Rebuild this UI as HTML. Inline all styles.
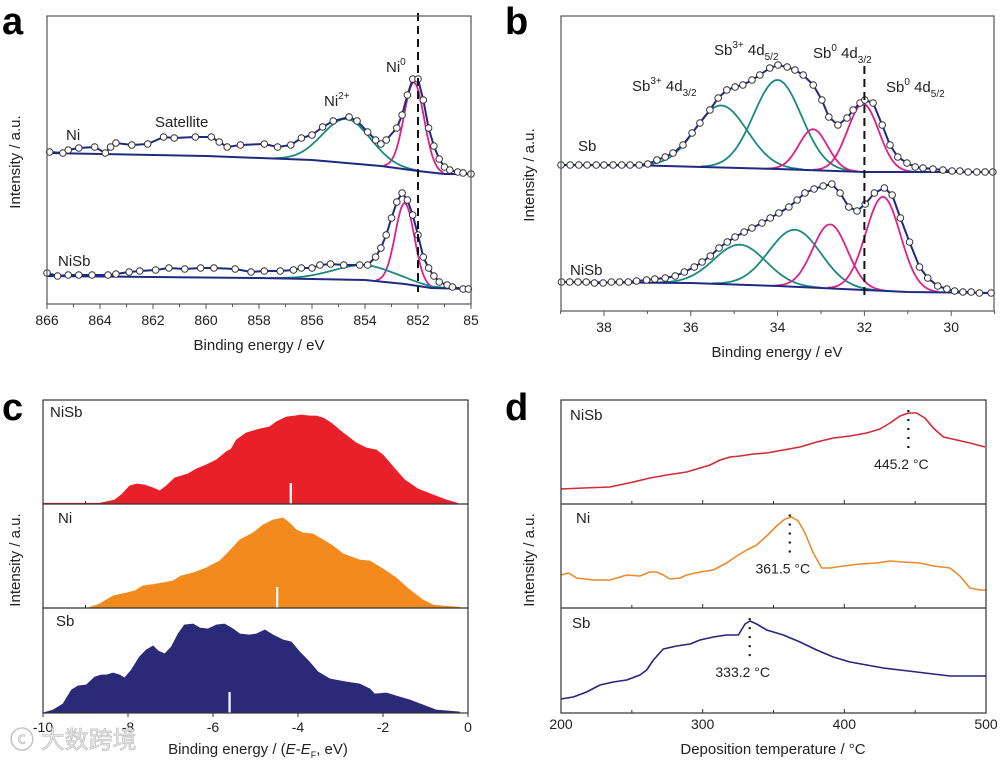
<!DOCTYPE html>
<html><head><meta charset="utf-8">
<style>
html,body{margin:0;padding:0;background:#fff;}
svg{display:block;font-family:"Liberation Sans","Noto Sans CJK SC",sans-serif;}
</style></head>
<body>
<svg id="fig" width="1000" height="762" viewBox="0 0 1000 762" xmlns="http://www.w3.org/2000/svg">
<rect width="1000" height="762" fill="#fff"/>
<g id="pa"></g>
<g id="pb"></g>
<g id="pc"></g>
<g id="pd"></g>
<text x="10" y="748" font-size="24" fill="#e6e6e6" stroke="#bbb" stroke-width="0.6">ⓒ 大数跨境</text>
</svg>
<script>
// ---------- Panel a data (binding energy eV, intensity a.u.) ----------
const aNiE=[865.9,865.4,865.2,864.8,864.2,863.8,863.6,863.4,862.8,862.2,861.6,861.2,860.4,859.8,859.5,859.2,858.7,857.8,857.3,856.8,856.4,856.0,855.6,855.2,854.6,854.3,853.9,853.6,853.4,853.2,852.8,852.6,852.4,852.2,852.0,851.8,851.6,851.4,851.2,851.0,850.8,850.5,850.3,850.0];
const aNiI=[152,151,154,156,157,151,157,161,159,160,167,166,167,167,162,157,159,160,157,159,166,169,177,183,187,183,172,164,160,164,176,189,209,225,225,204,176,158,145,137,134,132,131,130];
const aNiBaseE=[866,860,856,853.4,852,851,850];
const aNiBaseI=[151,148,144,138,133,130,130];
const aNiPeaks=[[852.15,88,0.38,'#e0208a'],[854.7,44,0.9,'#1a8a80']];
const aNiSbE=[866,865.6,865.2,864.8,864.3,863.7,863.4,862.9,862.5,861.9,861.4,860.8,860.2,859.7,858.9,858.3,857.8,857.2,856.7,856.4,856,855.7,855.3,854.8,854.2,853.9,853.6,853.4,853.2,853,852.8,852.6,852.4,852.2,852,851.8,851.6,851.4,851.2,850.9,850.7,850.3,850.1];
const aNiSbI=[31,28,29,29,29,29,30,32,33,34,36,35,36,36,35,32,33,33,34,36,36,39,40,39,39,39,47,56,69,86,102,111,104,89,69,47,36,28,22,19,17,15,15];
const aNiSbBaseE=[866,858,854,852.5,851.5,850];
const aNiSbBaseI=[28,26,24,20,16,15];
const aNiSbPeaks=[[852.5,81,0.36,'#e0208a'],[854.0,15,1.2,'#1a8a80']];
const aTicks=[866,864,862,860,858,856,854,852,850];

// ---------- Panel b data ----------
const bSbE=[38.99,38.78,38.58,38.39,38.18,38.0,37.79,37.59,37.4,37.19,36.99,36.78,36.59,36.41,36.18,35.97,35.79,35.56,35.37,35.17,34.98,34.8,34.59,34.41,34.18,33.99,33.78,33.6,33.41,33.18,32.98,32.82,32.61,32.4,32.26,32.1,31.99,31.8,31.59,31.41,31.23,31.02,30.83,30.65,30.42,30.19,29.98,29.8,29.61,29.41,29.22,29.04];
const bSbI=[146,146,146,146,146,146,146,146,146,146,147,151,154,158,166,178,188,201,213,221,224,226,231,236,243,246,244,241,236,226,211,194,186,193,201,208,211,208,186,166,154,148,144,143,142,141,140,140,139,139,139,139];
const bSbBaseE=[39,37,34,32,29];
const bSbBaseI=[146,145.5,142,139,139];
const bSbPeaks=[[35.3,62,0.6,'#1a8a80'],[34.0,89,0.55,'#1a8a80'],[33.18,41,0.33,'#e0208a'],[32.03,68,0.36,'#e0208a']];
const bNiSbE=[38.98,38.79,38.6,38.41,38.22,38.02,37.83,37.64,37.44,37.25,37.02,36.83,36.59,36.36,36.15,35.92,35.74,35.55,35.35,35.16,34.98,34.77,34.59,34.36,34.17,33.97,33.74,33.55,33.37,33.16,32.95,32.75,32.56,32.36,32.17,31.98,31.77,31.54,31.36,31.17,30.96,30.73,30.54,30.31,30.1,29.92,29.73,29.54,29.35,29.08];
const bNiSbI=[29,29,29,29,28,28,29,29,29,30,31,32,33,35,39,44,49,55,63,69,74,79,83,88,93,98,104,111,118,122,125,127,118,104,100,107,118,123,116,93,69,44,33,25,22,20,19,19,18,18];
const bNiSbBaseE=[39,36,34,32,31,29];
const bNiSbBaseI=[29,28,25,21,19,18];
const bNiSbPeaks=[[34.87,40,0.6,'#1a8a80'],[33.6,57,0.6,'#1a8a80'],[32.79,64,0.4,'#e0208a'],[31.57,94,0.4,'#e0208a']];
const bTicks=[38,36,34,32,30];

// ---------- Panel c data (E-EF eV, DOS a.u.) ----------
const cNiSbE=[-10,-8.67,-8.31,-8.16,-7.96,-7.8,-7.61,-7.41,-7.25,-7.1,-6.9,-6.75,-6.59,-6.39,-6.16,-5.92,-5.69,-5.57,-5.45,-5.22,-4.9,-4.67,-4.51,-4.27,-4.08,-3.92,-3.73,-3.57,-3.41,-3.22,-2.94,-2.63,-2.39,-2.16,-2.0,-1.76,-1.49,-1.18,-0.82,-0.51,-0.24];
const cNiSbD=[0.7,0.7,4,9,18,20,19,16,13,18,26,28,30,35,39,44,52,55,64,71,75,77,82,87,88,89,88,88,86,81,71,61,56,54,49,37,24,15,9,4,0.7];
const cNiE=[-8.94,-8.67,-8.35,-8.04,-7.84,-7.65,-7.33,-6.94,-6.75,-6.47,-6.16,-5.84,-5.61,-5.37,-5.06,-4.82,-4.59,-4.35,-4.2,-4.04,-3.88,-3.65,-3.41,-3.18,-2.94,-2.55,-2.31,-2.0,-1.69,-1.37,-1.06,-0.82,-0.59,-0.2];
const cNiD=[0,4,12,15,17,22,24,27,32,35,40,47,57,68,75,83,88,90,85,78,75,74,68,62,54,48,47,39,30,18,8,3,2,0.7];
const cSbE=[-10,-9.76,-9.53,-9.33,-9.18,-8.98,-8.78,-8.63,-8.51,-8.35,-8.2,-8.08,-7.92,-7.73,-7.57,-7.41,-7.29,-7.14,-6.98,-6.82,-6.67,-6.47,-6.31,-6.12,-5.92,-5.73,-5.53,-5.37,-5.14,-4.98,-4.78,-4.59,-4.35,-4.16,-3.96,-3.73,-3.53,-3.25,-2.86,-2.55,-2.31,-2.2,-1.92,-1.69,-1.37,-1.06,-0.75,-0.2];
const cSbD=[0,3,9,23,27,28,36,38,38,40,38,35,43,56,63,67,62,59,66,79,88,89,85,84,88,89,84,79,78,79,83,78,73,71,61,51,41,34,31,29,24,19,20,17,13,8,3,1];
const cCenters=[-4.17,-4.49,-5.61];
const cTicks=[-10,-8,-6,-4,-2,0];

// ---------- Panel d data (temperature °C, intensity a.u.) ----------
const dNiSbT=[200,215.8,234.6,251.1,262.8,274.6,288.7,298.1,305.2,312.2,319.3,326.4,335.8,345.2,356.9,368.7,380.5,392.2,404,415.8,425.2,432.2,439.3,445.2,451.1,456.9,462.8,469.9,479.3,488.7,499.3];
const dNiSbI=[15,16,17,22,26,29,32,36,39,44,47,48,50,51,54,57,62,66,68,71,75,81,88,91,91,86,76,67,64,61,57];
const dNiT=[200,205.2,211.1,222.8,234.6,246.4,255.8,262.8,267.5,272.2,276.9,284,288.7,298.1,307.5,316.9,324,331.1,338.1,345.2,352.2,358.1,362.8,367.5,372.2,378.1,384,389.9,399.3,411.1,422.8,432.2,441.6,453.4,462.8,474.6,481.6,488.7,495.8,500];
const dNiI=[33,35,30,28,28,33,32,36,36,33,29,30,33,36,38,45,52,58,63,72,82,89,91,87,75,55,40,40,42,44,45,47,46,45,42,40,32,20,18,18];
const dSbT=[200,208.7,218.1,227.5,236.9,246.4,255.8,260.5,265.2,272.2,281.6,291.1,298.1,307.5,316.9,325.2,329.9,333.4,338.1,345.2,356.9,368.7,380.5,392.2,404,415.8,427.5,439.3,451.1,462.8,474.6,486.4,500];
const dSbI=[14,16,21,28,31,33,38,43,53,64,67,69,73,76,78,78,89,92,89,83,78,71,63,56,51,48,45,43,41,39,37,37,37];
const dPeaks=[445.2,361.5,333.2];
const dPeakLabels=['445.2 °C','361.5 °C','333.2 °C'];
const dTicks=[200,300,400,500];

const NS='http://www.w3.org/2000/svg';
function mk(parent,tag,attrs,text){const e=document.createElementNS(NS,tag);for(const k in attrs)e.setAttribute(k,attrs[k]);if(text!==undefined)e.textContent=text;parent.appendChild(e);return e;}
function pathOf(xs,ys,fx,fy){return xs.map((v,i)=>(i?'L':'M')+fx(v).toFixed(1)+' '+fy(ys[i]).toFixed(1)).join(' ');}
function interp(xs,ys,x){ // xs may be descending or ascending
  for(let i=0;i<xs.length-1;i++){const a=xs[i],b=xs[i+1];if((x-a)*(x-b)<=0){const t=(x-a)/(b-a);return ys[i]+t*(ys[i+1]-ys[i]);}}
  return Math.abs(x-xs[0])<Math.abs(x-xs[xs.length-1])?ys[0]:ys[ys.length-1];
}

// ---------- Panel a ----------
(function(){
const g=document.getElementById('pa');
const L=47,R=471,T=16,B=304;
const fx=e=>L+(866-e)*26.5, fy=i=>B-i;
let t;
t=mk(g,'text',{x:2,y:34,'font-size':38,'font-weight':'bold'},'a');

function spectrum(E,I,bE,bI,peaks,name){
  // components
  peaks.forEach((p,k)=>{const xs=[],ys=[];for(let e=p[0]+3*p[2];e>=p[0]-3*p[2];e-=0.05){xs.push(e);ys.push(interp(bE,bI,e)+p[1]*Math.exp(-((e-p[0])**2)/(2*p[2]*p[2])));}
    const c=mk(g,'path',{d:pathOf(xs,ys,fx,fy),fill:'none',stroke:p[3],'stroke-width':1.8});
    });
  const b=mk(g,'path',{d:pathOf(bE,bI,fx,fy),fill:'none',stroke:'#1f2a80','stroke-width':2});
  
  const f=mk(g,'path',{d:pathOf(E,I,fx,fy),fill:'none',stroke:'#1f2a80','stroke-width':2});
  
  E.forEach((e,i)=>{const c=mk(g,'circle',{cx:fx(e),cy:fy(I[i]),r:3.3,fill:'#fff',stroke:'#333','stroke-width':1});
    });
}
spectrum(aNiE,aNiI,aNiBaseE,aNiBaseI,aNiPeaks,'ni');
spectrum(aNiSbE,aNiSbI,aNiSbBaseE,aNiSbBaseI,aNiSbPeaks,'nisb');
const d=mk(g,'line',{x1:fx(852),x2:fx(852),y1:13,y2:292,stroke:'#111','stroke-width':2,'stroke-dasharray':'8,5'});

const box=mk(g,'rect',{x:L,y:T,width:R-L,height:B-T,fill:'none',stroke:'#555','stroke-width':1.2});

for(let v=866;v>=850;v--){const x=fx(v);if(x>R+0.5)continue;const big=v%2===0;
  const tk=mk(g,'line',{x1:x,x2:x,y1:B,y2:B+(big?5:3),stroke:'#555','stroke-width':1});
  }
aTicks.forEach(v=>{const lb=mk(g,'text',{x:fx(v),y:325,'font-size':14,'text-anchor':'middle',fill:'#222'},v===850?'85':String(v));
  });
t=mk(g,'text',{x:259,y:350,'font-size':15,'text-anchor':'middle',fill:'#222'},'Binding energy / eV');

t=mk(g,'text',{x:0,y:0,'font-size':15,'text-anchor':'middle',fill:'#222',transform:'translate(20,162) rotate(-90)'},'Intensity / a.u.');

const labs=[['Ni',66,140],['Satellite',155,127],['NiSb',58,266]];
labs.forEach(l=>{const e=mk(g,'text',{x:l[1],y:l[2],'font-size':15,fill:'#222'},l[0]);});
t=mk(g,'text',{x:324,y:106,'font-size':15,fill:'#222'});t.innerHTML='Ni<tspan dy="-7" font-size="10">2+</tspan>';

t=mk(g,'text',{x:386,y:72,'font-size':15,fill:'#222'});t.innerHTML='Ni<tspan dy="-7" font-size="10">0</tspan>';

})();

// ---------- Panel b ----------
(function(){
const g=document.getElementById('pb');
const L=561,R=994,T=16,B=311;
const fx=e=>604+(38-e)*43.4, fy=i=>B-i;
let t;
t=mk(g,'text',{x:505,y:34,'font-size':38,'font-weight':'bold'},'b');

function spectrum(E,I,bE,bI,peaks,name){
  peaks.forEach((p,k)=>{const xs=[],ys=[];for(let e=p[0]+3.2*p[2];e>=p[0]-3.2*p[2];e-=0.03){xs.push(e);ys.push(interp(bE,bI,e)+p[1]*Math.exp(-((e-p[0])**2)/(2*p[2]*p[2])));}
    const c=mk(g,'path',{d:pathOf(xs,ys,fx,fy),fill:'none',stroke:p[3],'stroke-width':1.8});
    });
  const b=mk(g,'path',{d:pathOf(bE,bI,fx,fy),fill:'none',stroke:'#1f2a80','stroke-width':2});
  
  const f=mk(g,'path',{d:pathOf(E,I,fx,fy),fill:'none',stroke:'#1f2a80','stroke-width':2});
  
  E.forEach((e,i)=>{const c=mk(g,'circle',{cx:fx(e),cy:fy(I[i]),r:3.3,fill:'#fff',stroke:'#333','stroke-width':1});
    });
}
spectrum(bSbE,bSbI,bSbBaseE,bSbBaseI,bSbPeaks,'sb');
spectrum(bNiSbE,bNiSbI,bNiSbBaseE,bNiSbBaseI,bNiSbPeaks,'nisb');
const d=mk(g,'line',{x1:fx(32),x2:fx(32),y1:66,y2:300,stroke:'#111','stroke-width':2,'stroke-dasharray':'8,5'});

const box=mk(g,'rect',{x:L,y:T,width:R-L,height:B-T,fill:'none',stroke:'#555','stroke-width':1.2});

for(let v=39;v>=29;v--){const x=fx(v);const big=v%2===0;
  const tk=mk(g,'line',{x1:x,x2:x,y1:B,y2:B+(big?5:3),stroke:'#555','stroke-width':1});
  }
bTicks.forEach(v=>{const lb=mk(g,'text',{x:fx(v),y:332,'font-size':14,'text-anchor':'middle',fill:'#222'},String(v));
  });
t=mk(g,'text',{x:777,y:357,'font-size':15,'text-anchor':'middle',fill:'#222'},'Binding energy / eV');

t=mk(g,'text',{x:0,y:0,'font-size':15,'text-anchor':'middle',fill:'#222',transform:'translate(534,175) rotate(-90)'},'Intensity / a.u.');

[['Sb',578,151],['NiSb',570,275]].forEach(l=>{const e=mk(g,'text',{x:l[1],y:l[2],'font-size':15,fill:'#222'},l[0]);});
const pl=[[632,91,'3+','3/2','sb3-4d32'],[714,55,'3+','5/2','sb3-4d52'],[813,58,'0','3/2','sb0-4d32'],[886,92,'0','5/2','sb0-4d52']];
pl.forEach(p=>{const e=mk(g,'text',{x:p[0],y:p[1],'font-size':15,fill:'#222'});
  e.innerHTML='Sb<tspan dy="-7" font-size="10">'+p[2]+'</tspan><tspan dy="7"> 4d</tspan><tspan dy="5" font-size="10">'+p[3]+'</tspan>';
  });
})();

// ---------- Panel c ----------
(function(){
const g=document.getElementById('pc');
const L=43,R=468,T=400,B=713;
const fx=e=>L+(e+10)*42.5;
const bottoms=[504,608,713];
const sets=[[cNiSbE,cNiSbD,'#e8202a','nisb'],[cNiE,cNiD,'#f28a1e','ni'],[cSbE,cSbD,'#2a2a78','sb']];
let t;
t=mk(g,'text',{x:2,y:420,'font-size':38,'font-weight':'bold'},'c');

sets.forEach((s,k)=>{const bb=bottoms[k];const fy=v=>bb-v;
  const d=pathOf(s[0],s[1],fx,fy)+' L'+fx(s[0][s[0].length-1]).toFixed(1)+' '+bb+' L'+fx(s[0][0]).toFixed(1)+' '+bb+' Z';
  const a=mk(g,'path',{d:d,fill:s[2],stroke:s[2],'stroke-width':0.8});
  
  const c=cCenters[k];const m=mk(g,'line',{x1:fx(c),x2:fx(c),y1:bb,y2:bb-21,stroke:'#fff','stroke-width':2.2});
  
  const mt=mk(g,'line',{x1:fx(-9),x2:fx(-9),y1:bb,y2:bb-3,stroke:'#333','stroke-width':1});
  
});
[504,608].forEach(y=>{const l=mk(g,'line',{x1:L,x2:R,y1:y,y2:y,stroke:'#333','stroke-width':1.2});});
const box=mk(g,'rect',{x:L,y:T,width:R-L,height:B-T,fill:'none',stroke:'#333','stroke-width':1.2});

cTicks.forEach(v=>{const tk=mk(g,'line',{x1:fx(v),x2:fx(v),y1:B,y2:B+4,stroke:'#333','stroke-width':1});
  
  const lb=mk(g,'text',{x:fx(v),y:732,'font-size':14,'text-anchor':'middle',fill:'#222'},String(v));
  });
t=mk(g,'text',{x:258,y:754,'font-size':15,'text-anchor':'middle',fill:'#222'});
t.innerHTML='Binding energy / (<tspan font-style="italic">E</tspan>-<tspan font-style="italic">E</tspan><tspan dy="4" font-size="9">F</tspan><tspan dy="-4">, eV)</tspan>';

t=mk(g,'text',{x:0,y:0,'font-size':15,'text-anchor':'middle',fill:'#222',transform:'translate(20,560) rotate(-90)'},'Intensity / a.u.');

[['NiSb',50,417],['Ni',58,523],['Sb',56,626]].forEach(l=>{const e=mk(g,'text',{x:l[1],y:l[2],'font-size':15,fill:'#222'},l[0]);});
})();

// ---------- Panel d ----------
(function(){
const g=document.getElementById('pd');
const L=561,R=986,T=400,B=713;
const fx=v=>L+(v-200)*425/300;
const bottoms=[504,608,713];
const sets=[[dNiSbT,dNiSbI,'#d42a35','nisb'],[dNiT,dNiI,'#ea8a2a','ni'],[dSbT,dSbI,'#25257a','sb']];
let t;
t=mk(g,'text',{x:505,y:420,'font-size':38,'font-weight':'bold'},'d');

sets.forEach((s,k)=>{const bb=bottoms[k];const fy=v=>bb-v;
  const p=mk(g,'path',{d:pathOf(s[0],s[1],fx,fy),fill:'none',stroke:s[2],'stroke-width':1.6,'stroke-linejoin':'round'});
  
  const pk=dPeaks[k];const py=fy(interp(s[0],s[1],pk));
  const dl=mk(g,'line',{x1:fx(pk),x2:fx(pk),y1:py-3,y2:py+38,stroke:'#111','stroke-width':2.2,'stroke-dasharray':'2,7'});
  
  const lb=mk(g,'text',{x:fx(pk)-7,y:py+56,'font-size':14,'text-anchor':'middle',fill:'#222'},dPeakLabels[k]);
  
  for(let v=250;v<500;v+=50){const tk=mk(g,'line',{x1:fx(v),x2:fx(v),y1:bb,y2:bb-(v%100===0?4:3),stroke:'#333','stroke-width':1});
    }
});
[504,608].forEach(y=>{const l=mk(g,'line',{x1:L,x2:R,y1:y,y2:y,stroke:'#333','stroke-width':1.2});});
const box=mk(g,'rect',{x:L,y:T,width:R-L,height:B-T,fill:'none',stroke:'#333','stroke-width':1.2});

dTicks.forEach(v=>{const lb=mk(g,'text',{x:fx(v),y:729,'font-size':14,'text-anchor':'middle',fill:'#222'},String(v));
  });
t=mk(g,'text',{x:773,y:754,'font-size':15,'text-anchor':'middle',fill:'#222'},'Deposition temperature / °C');

t=mk(g,'text',{x:0,y:0,'font-size':15,'text-anchor':'middle',fill:'#222',transform:'translate(534,560) rotate(-90)'},'Intensity / a.u.');

[['NiSb',570,420],['Ni',576,523],['Sb',572,628]].forEach(l=>{const e=mk(g,'text',{x:l[1],y:l[2],'font-size':15,fill:'#222'},l[0]);});
})();
</script>
</body></html>
